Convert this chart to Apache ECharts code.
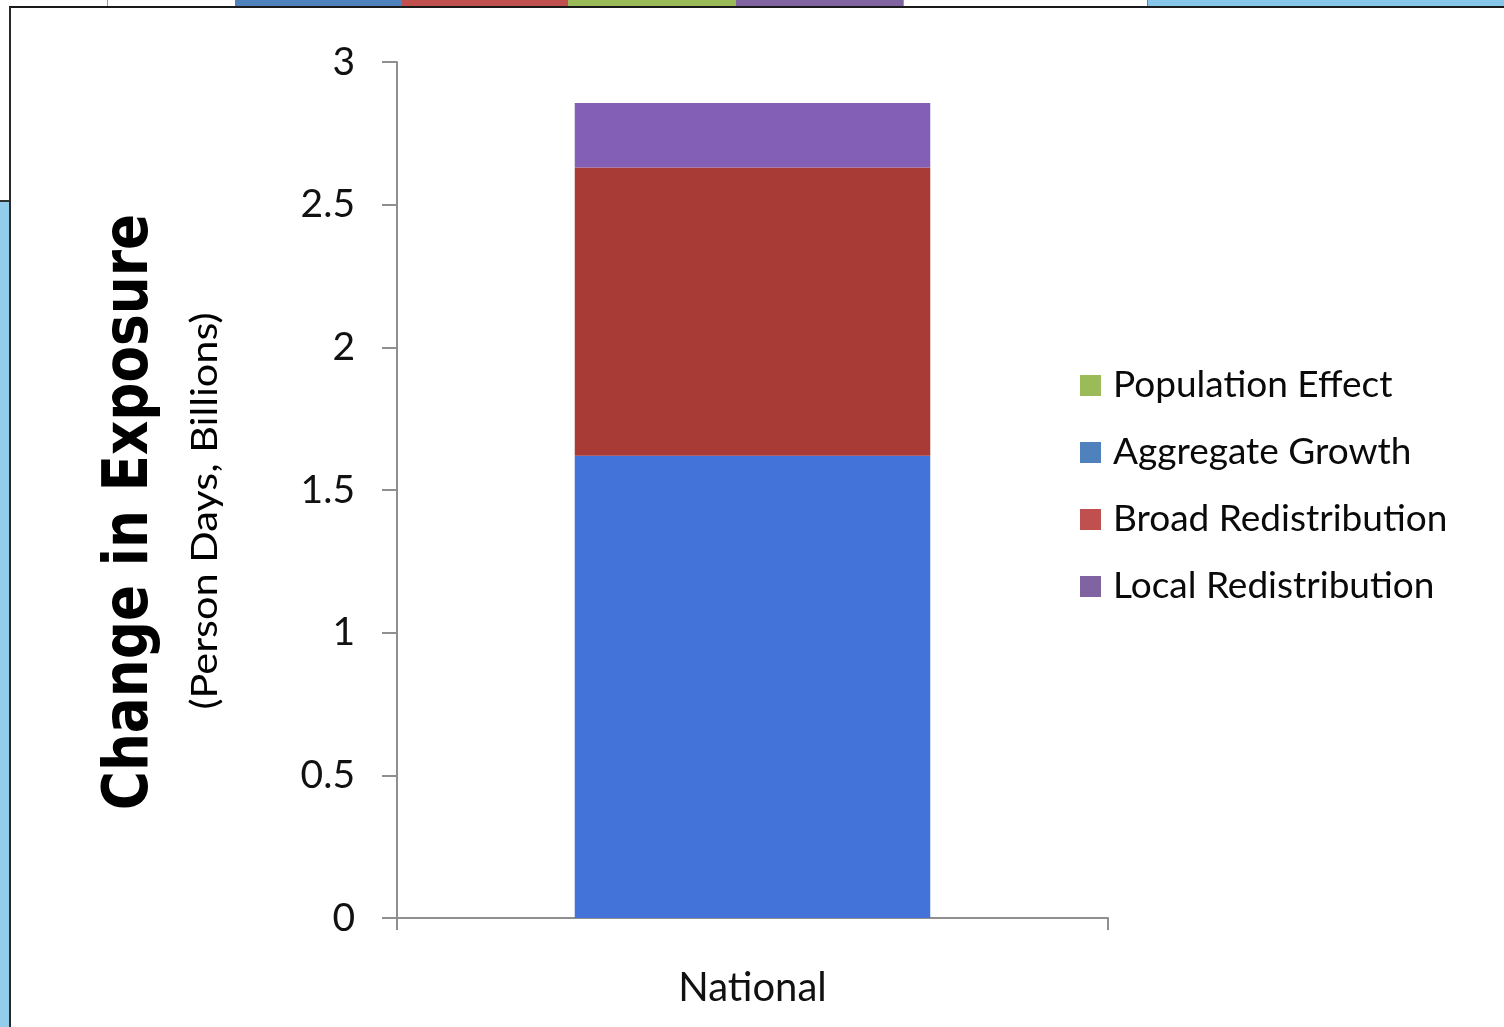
<!DOCTYPE html>
<html>
<head>
<meta charset="utf-8">
<script src="https://cdn.jsdelivr.net/npm/echarts@6/dist/echarts.min.js"></script>
<style>
  html, body { margin: 0; padding: 0; background: #ffffff; }
  #chart { width: 1504px; height: 1027px; }
</style>
</head>
<body>
<div id="chart"></div>
<script>
// Change in exposure decomposition (billions of person days)
const categories = ['National'];
const aggregateGrowth = [1.62];
const broadRedistribution = [1.01];
const localRedistribution = [0.226];
const populationEffect = [0];
const yTicks = { min: 0, max: 3, interval: 0.5 };

const barColors = {
  agg: '#4373D8',
  broad: '#A83B35',
  local: '#835FB5',
  pop: '#9BBB59'
};
const legendColors = {
  'Population Effect': '#9BBB59',
  'Aggregate Growth': '#4F81BD',
  'Broad Redistribution': '#C0504D',
  'Local Redistribution': '#8064A2'
};
const legendOrder = ['Population Effect', 'Aggregate Growth', 'Broad Redistribution', 'Local Redistribution'];

const chart = echarts.init(document.getElementById('chart'), null, { renderer: 'canvas' });

const labelFont = 'Lato, "Open Sans", sans-serif';

function barSeries(name, data, color) {
  return {
    name: name,
    type: 'bar',
    stack: 'total',
    data: data,
    barWidth: '50%',
    itemStyle: { color: color },
    emphasis: { disabled: true }
  };
}

chart.setOption({
  animation: false,
  backgroundColor: '#ffffff',
  grid: { left: 397, right: 396, top: 62, bottom: 109, containLabel: false },
  xAxis: {
    type: 'category',
    data: categories,
    axisLine: { lineStyle: { color: '#8f8f8f', width: 2 } },
    axisTick: { show: true, length: 12, lineStyle: { color: '#8f8f8f', width: 2 } },
    axisLabel: { color: '#111111', fontFamily: labelFont, fontSize: 40, margin: 50 }
  },
  yAxis: {
    type: 'value',
    min: yTicks.min,
    max: yTicks.max,
    interval: yTicks.interval,
    splitLine: { show: false },
    axisLine: { show: true, lineStyle: { color: '#8f8f8f', width: 2 } },
    axisTick: { show: true, length: 15, lineStyle: { color: '#8f8f8f', width: 2 } },
    axisLabel: { color: '#111111', fontFamily: labelFont, fontSize: 39, margin: 42 }
  },
  legend: {
    orient: 'vertical',
    left: 1075,
    top: 362,
    icon: 'rect',
    itemWidth: 21,
    itemHeight: 21,
    itemGap: 30,
    selectedMode: false,
    textStyle: { color: '#0a0a0a', fontFamily: labelFont, fontSize: 37, lineHeight: 36, padding: [0, 0, 0, 7] },
    data: legendOrder.map(n => ({ name: n, itemStyle: { color: legendColors[n] } }))
  },
  series: [
    barSeries('Aggregate Growth', aggregateGrowth, barColors.agg),
    barSeries('Broad Redistribution', broadRedistribution, barColors.broad),
    barSeries('Local Redistribution', localRedistribution, barColors.local),
    barSeries('Population Effect', populationEffect, barColors.pop)
  ],
  graphic: [
    // slide strip along the top edge
    { type: 'rect', shape: { x: 0, y: 0, width: 1504, height: 7 }, style: { fill: '#ffffff' }, silent: true },
    { type: 'rect', shape: { x: 235, y: 0, width: 167, height: 6 }, style: { fill: '#4F81BD' }, silent: true },
    { type: 'rect', shape: { x: 402, y: 0, width: 166, height: 6 }, style: { fill: '#C0504D' }, silent: true },
    { type: 'rect', shape: { x: 568, y: 0, width: 168, height: 6 }, style: { fill: '#9BBB59' }, silent: true },
    { type: 'rect', shape: { x: 736, y: 0, width: 167, height: 6 }, style: { fill: '#8064A2' }, silent: true },
    { type: 'rect', shape: { x: 1148, y: 0, width: 356, height: 6 }, style: { fill: '#86C6E9' }, silent: true },
    { type: 'line', shape: { x1: 107.5, y1: 0, x2: 107.5, y2: 6 }, style: { stroke: '#9a9a9a', lineWidth: 1 }, silent: true },
    { type: 'line', shape: { x1: 903.5, y1: 0, x2: 903.5, y2: 6 }, style: { stroke: '#9a9a9a', lineWidth: 1 }, silent: true },
    { type: 'line', shape: { x1: 1147.5, y1: 0, x2: 1147.5, y2: 6 }, style: { stroke: '#7a7a7a', lineWidth: 1 }, silent: true },
    // light blue panel on the left edge
    { type: 'rect', shape: { x: 0, y: 201, width: 9, height: 826 }, style: { fill: '#92CDEC' }, silent: true },
    { type: 'line', shape: { x1: 0, y1: 201, x2: 9, y2: 201 }, style: { stroke: '#333333', lineWidth: 2 }, silent: true },
    // chart frame
    { type: 'line', shape: { x1: 9, y1: 7, x2: 1504, y2: 7 }, style: { stroke: '#1a1a1a', lineWidth: 2 }, silent: true },
    { type: 'line', shape: { x1: 10, y1: 7, x2: 10, y2: 1027 }, style: { stroke: '#2a2a2a', lineWidth: 2 }, silent: true },
    // axis titles
    {
      type: 'text',
      x: 131, y: 512,
      rotation: Math.PI / 2,
      scaleX: 0.86,
      style: {
        text: 'Change in Exposure',
        fill: '#000000',
        font: 'bold 62px "DejaVu Sans", sans-serif',
        align: 'center',
        verticalAlign: 'middle'
      },
      silent: true
    },
    {
      type: 'text',
      x: 205, y: 511,
      rotation: Math.PI / 2,
      scaleX: 1.15,
      style: {
        text: '(Person Days, Billions)',
        fill: '#000000',
        font: '36px Lato, "Open Sans", sans-serif',
        align: 'center',
        verticalAlign: 'middle'
      },
      silent: true
    }
  ]
});
</script>
</body>
</html>
